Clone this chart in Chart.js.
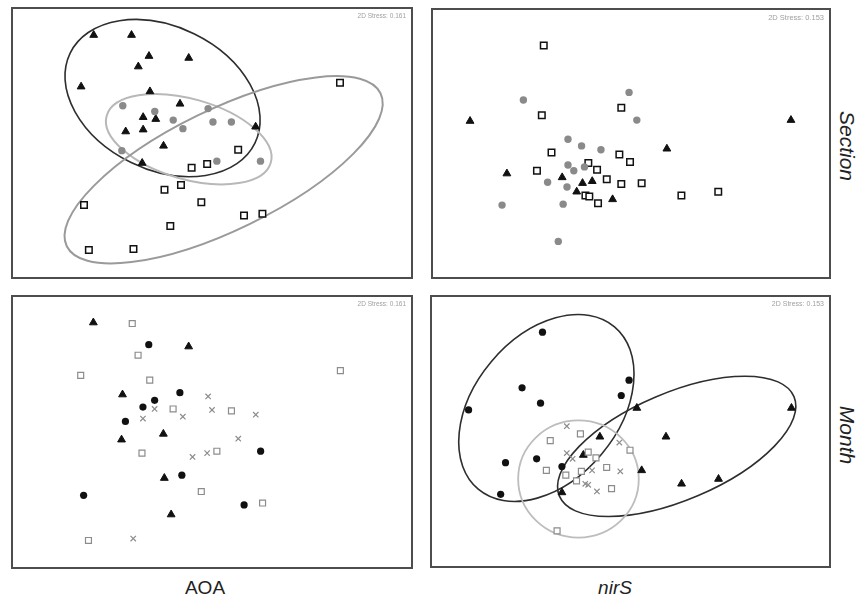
<!DOCTYPE html>
<html>
<head>
<meta charset="utf-8">
<script src="https://cdn.jsdelivr.net/npm/chart.js@4.4.0/dist/chart.umd.min.js"></script>
<style>
  body { margin: 0; background: #fff; width: 856px; height: 599px; position: relative; overflow: hidden;
         font-family: "Liberation Sans", Arial, sans-serif; }
  canvas { position: absolute; }
  .lbl { position: absolute; width: 120px; height: 19px; line-height: 19px; font-size: 19px; color: #222; text-align: center; }
  .side { position: absolute; width: 120px; height: 24px; line-height: 24px; font-size: 21px; font-style: italic;
          color: #222; text-align: center; transform: rotate(90deg); }
</style>
</head>
<body>
<canvas id="aoaSection" width="402" height="272" style="left:11px;top:7px"></canvas>
<canvas id="nirsSection" width="400" height="271" style="left:431px;top:8px"></canvas>
<canvas id="aoaMonth" width="402" height="274" style="left:11px;top:295px"></canvas>
<canvas id="nirsMonth" width="401" height="273" style="left:430px;top:295px"></canvas>

<div class="lbl" style="left:145px;top:578px">AOA</div>
<div class="lbl" style="left:555px;top:578px;font-style:italic">nirS</div>
<div class="side" style="left:787px;top:134px">Section</div>
<div class="side" style="left:787px;top:423px">Month</div>

<script>
// NMDS coordinates, [x, y]

// AOA - Section
const aoaSecTri = [[0.79,2.49],[1.18,2.49],[1.36,2.27],[1.77,2.25],[1.25,2.16],[0.66,1.95],[1.37,1.90],[1.68,1.77],
  [1.30,1.63],[1.43,1.61],[1.12,1.48],[1.30,1.50],[2.46,1.53],[1.51,1.33],[1.29,1.15]];
const aoaSecDot = [[1.09,1.75],[1.42,1.69],[1.61,1.60],[1.97,1.72],[2.02,1.58],[2.21,1.58],[1.71,1.51],[1.08,1.28],
  [2.06,1.17],[2.51,1.17]];
const aoaSecSq = [[3.33,1.99],[2.28,1.29],[1.96,1.14],[1.80,1.10],[1.69,0.92],[1.52,0.87],[1.90,0.74],[0.69,0.71],
  [2.34,0.60],[2.53,0.62],[1.58,0.49],[0.74,0.24],[1.20,0.25]];
// ellipses: [cx, cy, rx, ry, angle deg]
const aoaSecEll = [[1.50,1.83,1.06,0.75,-26],[1.77,1.40,0.88,0.42,-16],[2.13,1.08,1.80,0.63,26]];

// nirS - Section
const nirSecSq = [[1.10,2.38],[1.90,1.73],[1.08,1.65],[1.18,1.26],[1.88,1.24],[1.99,1.16],[1.03,1.07],[1.56,1.15],
  [1.65,1.08],[1.75,0.98],[1.90,0.93],[2.11,0.94],[1.53,0.81],[1.57,0.80],[1.66,0.73],[2.52,0.81],[2.90,0.85]];
const nirSecDot = [[1.98,1.89],[0.89,1.81],[2.06,1.60],[1.35,1.40],[1.49,1.33],[1.69,1.29],[1.35,1.13],[1.41,1.07],
  [1.52,1.11],[1.14,0.95],[1.34,0.90],[0.67,0.71],[1.30,0.72],[1.25,0.33]];
const nirSecTri = [[0.34,1.59],[3.65,1.60],[2.37,1.30],[0.72,1.04],[1.29,1.00],[1.50,0.94],[1.60,0.96],[1.44,0.85],
  [1.81,0.77]];

// AOA - Month
const aoaMonTri = [[0.79,2.51],[1.77,2.26],[1.09,1.76],[1.51,1.35],[1.08,1.29],[1.52,0.89],[1.59,0.51]];
const aoaMonDot = [[1.36,2.28],[1.68,1.78],[1.42,1.70],[1.30,1.63],[1.12,1.48],[2.51,1.17],[1.70,0.92],[0.69,0.71],
  [2.34,0.61]];
const aoaMonSq = [[1.19,2.50],[1.25,2.17],[0.66,1.96],[1.37,1.91],[3.33,2.01],[1.61,1.61],[2.21,1.59],[2.06,1.17],
  [1.29,1.15],[1.90,0.75],[2.53,0.63],[0.74,0.24]];
const aoaMonX = [[1.97,1.74],[1.42,1.61],[2.01,1.60],[2.46,1.55],[1.30,1.51],[1.71,1.53],[2.28,1.30],[1.96,1.15],
  [1.81,1.11],[1.20,0.26]];

// nirS - Month
const nirMonDot = [[1.10,2.40],[1.99,1.90],[0.89,1.82],[1.91,1.74],[1.08,1.66],[0.34,1.59],[0.72,1.04],[1.04,1.08],
  [1.30,1.00],[0.67,0.71]];
const nirMonTri = [[2.07,1.61],[3.66,1.61],[1.69,1.31],[2.37,1.31],[1.52,1.12],[2.12,0.96],[2.53,0.82],[2.91,0.87],
  [1.30,0.73]];
const nirMonSq = [[1.49,1.34],[1.18,1.27],[2.00,1.17],[1.57,1.15],[1.65,1.09],[1.76,0.99],[1.14,0.96],[1.50,0.95],
  [1.34,0.91],[1.45,0.85],[1.81,0.77],[1.25,0.33]];
const nirMonX = [[1.35,1.42],[1.89,1.25],[1.35,1.14],[1.41,1.08],[1.61,0.96],[1.90,0.95],[1.54,0.82],[1.57,0.81],
  [1.66,0.74]];
const nirMonEll = [[1.14,1.61,1.09,0.75,50],[2.48,1.21,1.31,0.56,23],[1.47,0.87,0.62,0.61,0]];

const stressAoa = '2D Stress: 0.161';
const stressNir = '2D Stress: 0.153';

const marker = {
  tri:    { pointStyle: 'triangle', pointRadius: 4.5, pointBackgroundColor: '#111', pointBorderColor: '#111', pointBorderWidth: 1 },
  grayDot:{ pointStyle: 'circle', pointRadius: 3.7, pointBackgroundColor: '#8a8a8a', pointBorderColor: '#8a8a8a', pointBorderWidth: 0 },
  openSq: { pointStyle: 'rect', pointRadius: 4.6, pointBackgroundColor: '#fff', pointBorderColor: '#111', pointBorderWidth: 1.5 },
  dot:    { pointStyle: 'circle', pointRadius: 3.6, pointBackgroundColor: '#111', pointBorderColor: '#111', pointBorderWidth: 0 },
  graySq: { pointStyle: 'rect', pointRadius: 4.2, pointBackgroundColor: '#fff', pointBorderColor: '#8c8c8c', pointBorderWidth: 1.2 },
  cross:  { pointStyle: 'crossRot', pointRadius: 3.8, pointBackgroundColor: '#8c8c8c', pointBorderColor: '#8c8c8c', pointBorderWidth: 1.2 }
};

function drawPanel(id, groups, ellipses, ellStyles, stress, stressSize) {
  const canvas = document.getElementById(id);
  const w = canvas.width, h = canvas.height;

  const panelPlugin = {
    id: 'panel_' + id,
    beforeDatasetsDraw(chart) {
      const ctx = chart.ctx, xs = chart.scales.x, ys = chart.scales.y;
      ctx.save();
      ellipses.forEach((e, i) => {
        const cx = xs.getPixelForValue(e[0]), cy = ys.getPixelForValue(e[1]);
        const rx = xs.getPixelForValue(e[0] + e[2]) - cx;
        const ry = cy - ys.getPixelForValue(e[1] + e[3]);
        ctx.beginPath();
        ctx.ellipse(cx, cy, rx, ry, -e[4] * Math.PI / 180, 0, Math.PI * 2);
        ctx.strokeStyle = ellStyles[i][0];
        ctx.lineWidth = ellStyles[i][1];
        ctx.stroke();
      });
      ctx.restore();
    },
    afterDraw(chart) {
      const ctx = chart.ctx;
      ctx.save();
      ctx.strokeStyle = '#4d4d4d';
      ctx.lineWidth = 2;
      ctx.strokeRect(1, 1, w - 2, h - 2);
      ctx.font = stressSize + 'px "Liberation Sans", Arial, sans-serif';
      ctx.fillStyle = '#a0a0a0';
      ctx.textAlign = 'right';
      ctx.textBaseline = 'top';
      ctx.fillText(stress, w - 7, 6);
      ctx.restore();
    }
  };

  new Chart(canvas, {
    type: 'scatter',
    data: {
      datasets: groups.map(g => Object.assign({
        data: g[0].map(p => ({ x: p[0], y: p[1] })),
        showLine: false
      }, marker[g[1]]))
    },
    options: {
      responsive: false,
      animation: false,
      events: [],
      layout: { padding: 0 },
      scales: {
        x: { type: 'linear', min: 0, max: w / 100, display: false },
        y: { type: 'linear', min: 0, max: h / 100, display: false }
      },
      plugins: { legend: { display: false }, tooltip: { enabled: false } }
    },
    plugins: [panelPlugin]
  });
}

drawPanel('aoaSection', [[aoaSecSq, 'openSq'], [aoaSecDot, 'grayDot'], [aoaSecTri, 'tri']],
  aoaSecEll, [['#2e2e2e', 1.6], ['#b8b8b8', 2], ['#9a9a9a', 2]], stressAoa, 6.5);
drawPanel('nirsSection', [[nirSecDot, 'grayDot'], [nirSecSq, 'openSq'], [nirSecTri, 'tri']],
  [], [], stressNir, 7.5);
drawPanel('aoaMonth', [[aoaMonSq, 'graySq'], [aoaMonX, 'cross'], [aoaMonDot, 'dot'], [aoaMonTri, 'tri']],
  [], [], stressAoa, 6.5);
drawPanel('nirsMonth', [[nirMonSq, 'graySq'], [nirMonX, 'cross'], [nirMonDot, 'dot'], [nirMonTri, 'tri']],
  nirMonEll, [['#2e2e2e', 1.6], ['#2e2e2e', 1.6], ['#bdbdbd', 1.8]], stressNir, 7);
</script>
</body>
</html>
